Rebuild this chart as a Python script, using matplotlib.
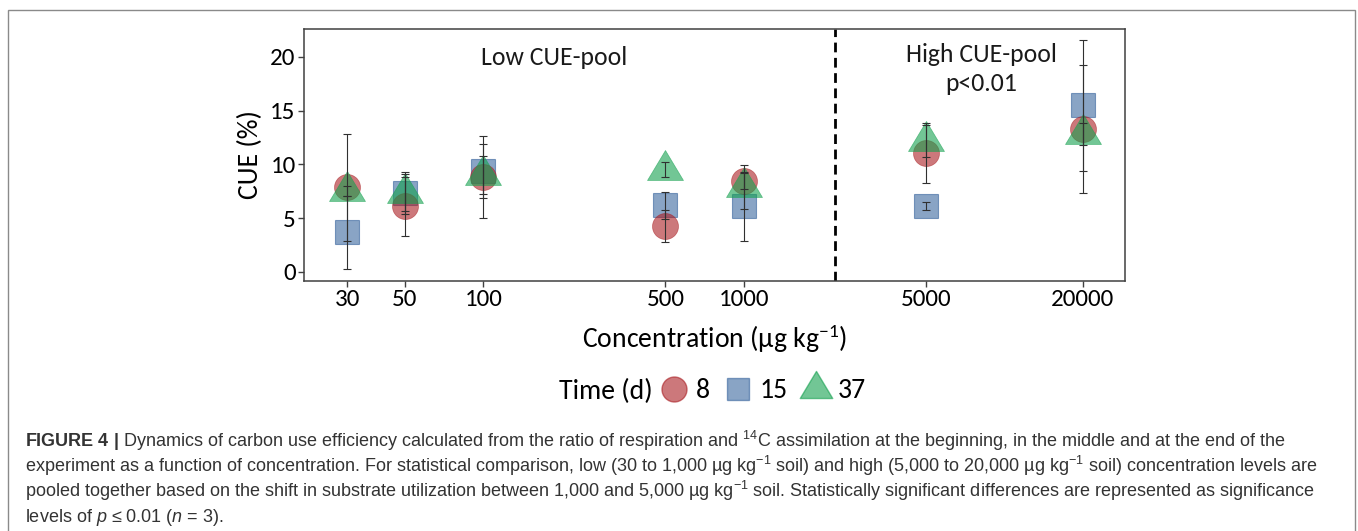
import matplotlib
matplotlib.use('Agg')
import matplotlib.pyplot as plt
import numpy as np
from matplotlib import font_manager
from matplotlib.path import Path
from matplotlib.lines import Line2D
from matplotlib.patches import Rectangle

names = {f.name for f in font_manager.fontManager.ttflist}
chart_font = 'Carlito' if 'Carlito' in names else 'Lato'
cap_font = 'Liberation Sans'

plt.rcParams['font.family'] = [chart_font, 'DejaVu Sans']
plt.rcParams['mathtext.fontset'] = 'custom'
plt.rcParams['mathtext.rm'] = cap_font
plt.rcParams['mathtext.it'] = cap_font + ':italic'
plt.rcParams['mathtext.bf'] = cap_font + ':bold'

# data
conc = [30, 50, 100, 500, 1000, 5000, 20000]
conc_labels = ['30', '50', '100', '500', '1000', '5000', '20000']
cue_d8 = [7.86, 6.1, 8.85, 4.3, 8.47, 11.08, 13.32]
err_d8 = [5.0, 2.75, 3.83, 1.5, 0.72, 2.8, 5.94]
cue_d15 = [3.69, 7.38, 9.4, 6.19, 6.1, 6.16, 15.49]
err_d15 = [3.41, 1.74, 2.48, 1.29, 3.2, 0.36, 6.07]
cue_d37 = [7.57, 7.35, 9.04, 9.53, 7.9, 12.2, 12.82]
err_d37 = [0.47, 1.99, 1.78, 0.7, 2.07, 1.5, 1.01]
times = ['8', '15', '37']

split = np.sqrt(1000 * 5000)  # boundary between the pools

c_red = (0.67, 0.12, 0.14, 0.6)
c_blue = (0.16, 0.35, 0.59, 0.55)
c_green = (0.08, 0.63, 0.31, 0.6)

# triangle centred on its centroid
tri = Path([(0, 20), (-18, -10), (18, -10), (0, 20)],
           [Path.MOVETO, Path.LINETO, Path.LINETO, Path.CLOSEPOLY])

fig = plt.figure(figsize=(13.58, 5.31), dpi=100)
ax = fig.add_axes([304 / 1358, 1 - 281 / 531, 821 / 1358, 252 / 531])

ax.plot(conc, cue_d15, ls='none', marker='s', ms=17.3, mfc=c_blue,
        mec=c_blue, mew=0.8, zorder=2)
ax.plot(conc, cue_d8, ls='none', marker='o', ms=18.7, mfc=c_red,
        mec=c_red, mew=0.5, zorder=3)
ax.plot(conc, cue_d37, ls='none', marker=tri, ms=28.8, mfc=c_green,
        mec=c_green, mew=0.5, zorder=4)

for vals, errs in [(cue_d8, err_d8), (cue_d15, err_d15), (cue_d37, err_d37)]:
    ax.errorbar(conc, vals, yerr=errs, fmt='none', ecolor='#303030',
                elinewidth=0.8, capsize=3, capthick=0.8, zorder=6)

ax.axvline(split, color='black', lw=2, ls=(0, (3.5, 2)), zorder=1)

ax.set_xscale('log')
ax.set_xlim(20.5, 29000)
ax.set_ylim(-0.84, 22.6)
ax.set_xticks(conc)
ax.set_xticklabels(conc_labels)
ax.minorticks_off()
ax.set_yticks([0, 5, 10, 15, 20])
ax.tick_params(direction='out', length=4, width=1, color='#404040',
               labelsize=18, pad=2)
ax.tick_params(axis='x', pad=2)
for s in ax.spines.values():
    s.set_color('#404040')
    s.set_linewidth(1.1)

ax.set_ylabel('CUE (%)', fontsize=20, labelpad=5)
ax.set_xlabel('Concentration (µg kg$\\mathregular{^{-1}}$)', fontsize=20,
              labelpad=9)

ax.text(0.3045, 0.885, 'Low CUE-pool', transform=ax.transAxes, ha='center',
        va='center', fontsize=18.5, color='#1a1a1a')
ax.text(0.8246, 0.90, 'High CUE-pool', transform=ax.transAxes, ha='center',
        va='center', fontsize=18.5, color='#1a1a1a')
ax.text(0.8246, 0.785, 'p<0.01', transform=ax.transAxes, ha='center',
        va='center', fontsize=18.5, color='#1a1a1a')

handles = [
    Line2D([], [], ls='none', marker='o', ms=18, mfc=c_red, mec=c_red),
    Line2D([], [], ls='none', marker='s', ms=16.5, mfc=c_blue, mec=c_blue),
    Line2D([], [], ls='none', marker=tri, ms=26, mfc=c_green, mec=c_green),
]
leg = fig.legend(handles, times, loc='center', ncol=3, frameon=False,
                 bbox_to_anchor=(763 / 1358, 1 - 391 / 531),
                 fontsize=20, handlelength=1.0, handletextpad=0.3,
                 columnspacing=0.5, borderpad=0)
ax.annotate('Time (d)', xy=(0, 0.5), xycoords=leg, xytext=(-5, 0),
            textcoords='offset points', ha='right', va='center',
            fontsize=20, annotation_clip=False)

# caption box
fig.add_artist(Rectangle((8 / 1358, -0.05), 1347 / 1358, 1.05 - 10 / 531,
                         transform=fig.transFigure, fill=False,
                         edgecolor='#8a8a8a', lw=1))

cap_lines = [
    r'$\mathbf{FIGURE\ 4\ |}$ Dynamics of carbon use efficiency calculated from the ratio of respiration and $^{14}$C assimilation at the beginning, in the middle and at the end of the',
    'experiment as a function of concentration. For statistical comparison, low (30 to 1,000 µg kg$^{-1}$ soil) and high (5,000 to 20,000 µg kg$^{-1}$ soil) concentration levels are',
    'pooled together based on the shift in substrate utilization between 1,000 and 5,000 µg kg$^{-1}$ soil. Statistically significant differences are represented as significance',
    r'levels of $p$ ≤ 0.01 ($n$ = 3).',
]
for i, line in enumerate(cap_lines):
    fig.text(25 / 1358, 1 - (447 + 25 * i) / 531, line, ha='left',
             va='baseline', fontsize=13, family=[cap_font, 'DejaVu Sans'],
             color='#333333')

fig.savefig('out.png', dpi=100)
